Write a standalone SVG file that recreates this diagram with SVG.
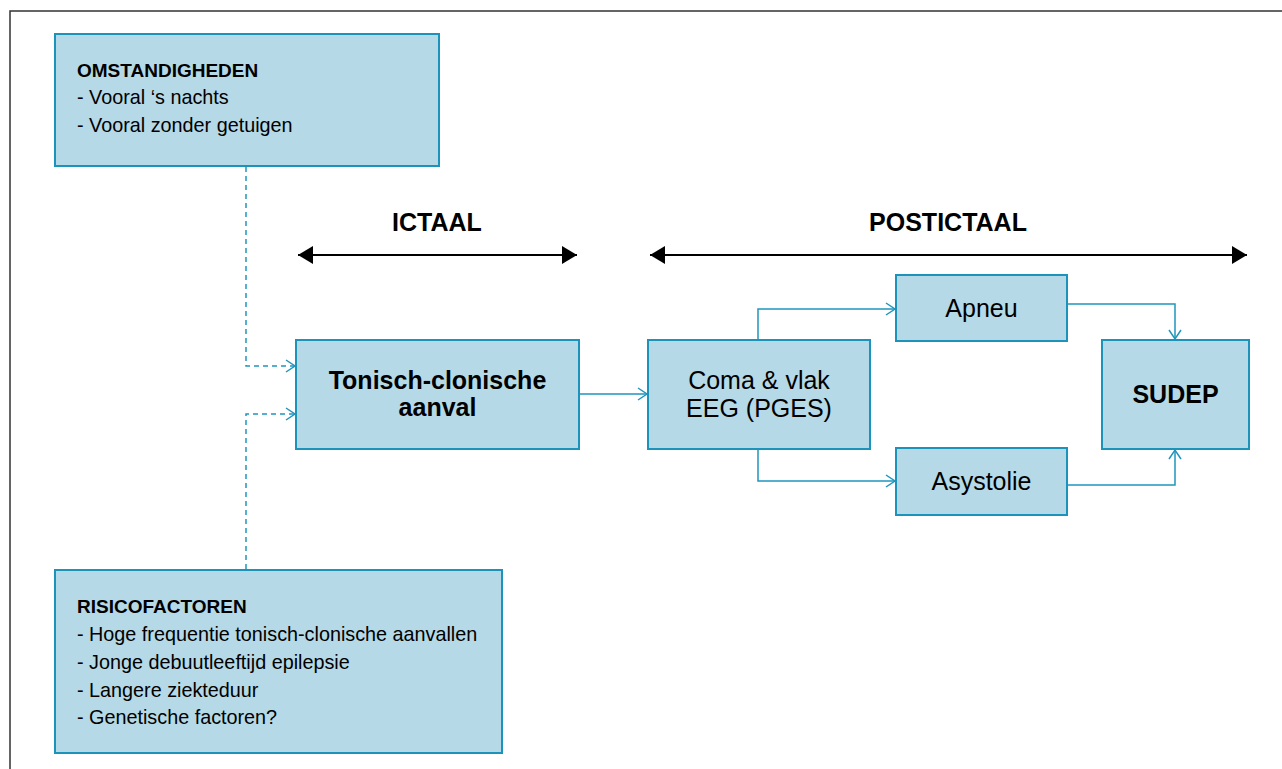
<svg xmlns="http://www.w3.org/2000/svg" width="1282" height="769" viewBox="0 0 1282 769">
<style>
.box{fill:#b5d9e7;stroke:#1b93ba;stroke-width:2}
.con{fill:none;stroke:#1f95bd;stroke-width:1.5}
.dash{stroke-dasharray:5 4}
.t{font-family:"Liberation Sans",Arial,sans-serif;fill:#000}
.b{font-weight:bold}
.big{font-size:25px;text-anchor:middle}
.sm{font-size:19.8px}
.hd{font-size:19px}
.per{stroke:#000;stroke-width:2;fill:none}
</style>
<defs>
<marker id="open" markerWidth="12" markerHeight="14" refX="10" refY="7" orient="auto" markerUnits="userSpaceOnUse">
<path d="M1,1 L10,7 L1,13" fill="none" stroke="#1f95bd" stroke-width="1.5"/>
</marker>
<marker id="tri" markerWidth="16" markerHeight="18" refX="15" refY="9" orient="auto-start-reverse" markerUnits="userSpaceOnUse">
<path d="M0,0 L15,9 L0,18 Z" fill="#000"/>
</marker>
</defs>
<rect x="0" y="0" width="1282" height="769" fill="#fff"/>
<path d="M10,769 V11 H1282" fill="none" stroke="#333" stroke-width="1.5"/>

<g id="periods">
<text class="t b big" x="437" y="231">ICTAAL</text>
<line class="per" x1="298" y1="255" x2="577" y2="255" marker-start="url(#tri)" marker-end="url(#tri)"/>
<text class="t b big" x="948" y="231">POSTICTAAL</text>
<line class="per" x1="650" y1="255" x2="1247" y2="255" marker-start="url(#tri)" marker-end="url(#tri)"/>
</g>

<g id="connectors">
<path class="con dash" d="M246,167 V366 H295" marker-end="url(#open)"/>
<path class="con dash" d="M246,569 V414 H295" marker-end="url(#open)"/>
<path class="con" d="M580,394 H647" marker-end="url(#open)"/>
<path class="con" d="M758,339 V309 H895" marker-end="url(#open)"/>
<path class="con" d="M758,450 V481 H895" marker-end="url(#open)"/>
<path class="con" d="M1068,304 H1175 V339" marker-end="url(#open)"/>
<path class="con" d="M1068,485 H1175 V450" marker-end="url(#open)"/>
</g>

<g id="omstandigheden">
<rect class="box" x="55" y="34" width="384" height="132"/>
<text class="t b hd" x="77" y="77">OMSTANDIGHEDEN</text>
<text class="t sm" x="77" y="104">- Vooral ‘s nachts</text>
<text class="t sm" x="77" y="132">- Vooral zonder getuigen</text>
</g>

<g id="tonisch">
<rect class="box" x="296" y="340" width="283" height="109"/>
<text class="t b big" x="437.5" y="389">Tonisch-clonische</text>
<text class="t b big" x="437.5" y="416">aanval</text>
</g>

<g id="coma">
<rect class="box" x="648" y="340" width="222" height="109"/>
<text class="t big" x="759" y="389">Coma &amp; vlak</text>
<text class="t big" x="759" y="417">EEG (PGES)</text>
</g>

<g id="apneu">
<rect class="box" x="896" y="275" width="171" height="66"/>
<text class="t big" x="981.5" y="317">Apneu</text>
</g>

<g id="asystolie">
<rect class="box" x="896" y="448" width="171" height="67"/>
<text class="t big" x="981.5" y="490">Asystolie</text>
</g>

<g id="sudep">
<rect class="box" x="1102" y="340" width="147" height="109"/>
<text class="t b big" x="1175.5" y="403">SUDEP</text>
</g>

<g id="risicofactoren">
<rect class="box" x="55" y="570" width="447" height="183"/>
<text class="t b hd" x="77" y="613">RISICOFACTOREN</text>
<text class="t sm" x="77" y="641">- Hoge frequentie tonisch-clonische aanvallen</text>
<text class="t sm" x="77" y="669">- Jonge debuutleeftijd epilepsie</text>
<text class="t sm" x="77" y="697">- Langere ziekteduur</text>
<text class="t sm" x="77" y="724">- Genetische factoren?</text>
</g>
</svg>
